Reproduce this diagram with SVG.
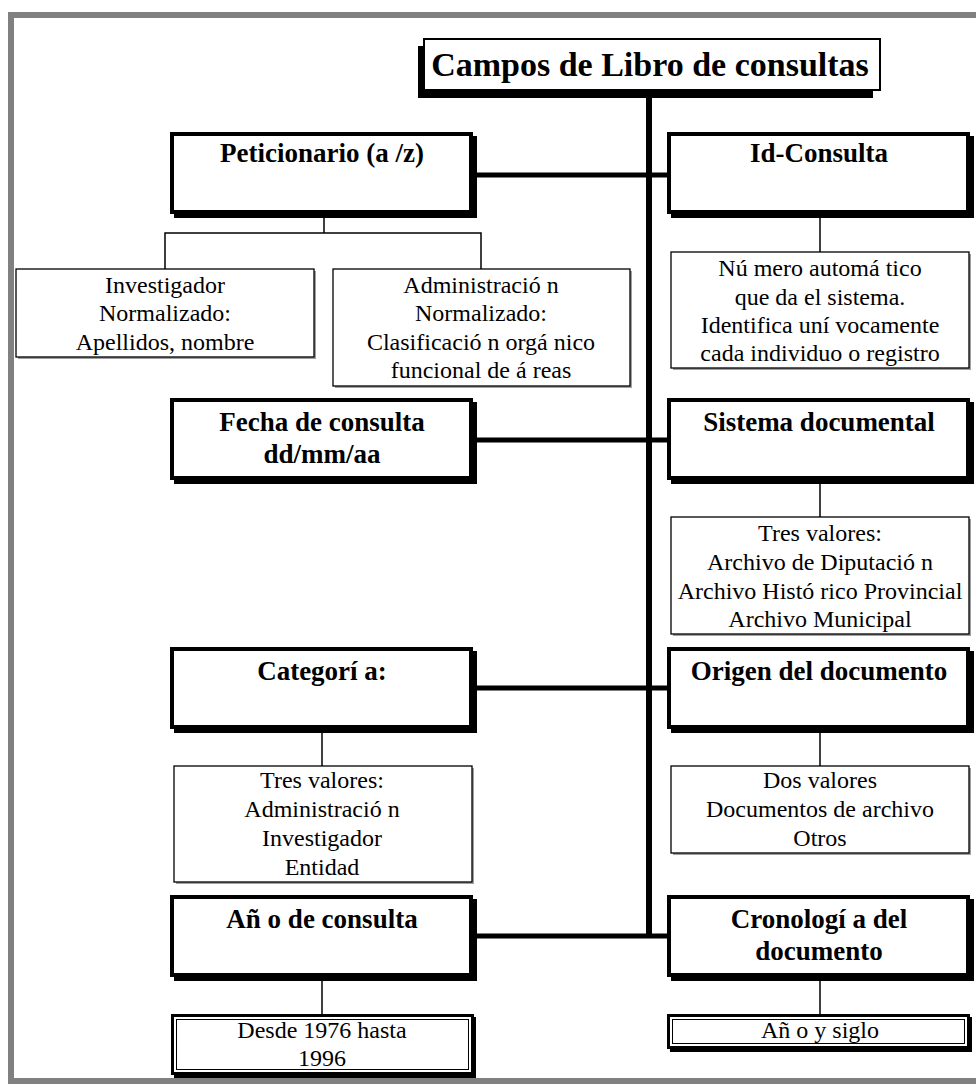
<svg xmlns="http://www.w3.org/2000/svg" width="976" height="1084" viewBox="0 0 976 1084">
<style>
.frame{fill:none;stroke:#808080;stroke-width:6}
.shadow{fill:#000}
.big{fill:#fff;stroke:#000;stroke-width:4}
.small{fill:#fff;stroke:#000;stroke-width:1.3}
.sshadow{fill:#a0a0a0}
.dbl{fill:#fff;stroke:#000;stroke-width:3}
.inner{fill:none;stroke:#000;stroke-width:1}
.thick{stroke:#000;stroke-width:5;fill:none}
.thin{stroke:#000;stroke-width:1.5;fill:none}
.h{font-family:"Liberation Serif",serif;font-weight:bold;font-size:27px;text-anchor:middle;fill:#000}
.title{font-family:"Liberation Serif",serif;font-weight:bold;font-size:34px;text-anchor:middle;fill:#000}
.t{font-family:"Liberation Serif",serif;font-size:24px;text-anchor:middle;fill:#000}
</style>
<rect width="976" height="1084" fill="#fff"/>
<rect class="frame" x="11" y="15" width="990" height="1066"/>

<g id="connectors">
  <line class="thick" x1="649" y1="91" x2="649" y2="938" style="stroke-width:6"/>
  <line class="thick" x1="473" y1="175" x2="667" y2="175"/>
  <line class="thick" x1="473" y1="440" x2="667" y2="440"/>
  <line class="thick" x1="473" y1="688" x2="667" y2="688"/>
  <line class="thick" x1="473" y1="936" x2="667" y2="936"/>
  <polyline class="thin" points="324,218 324,233"/>
  <polyline class="thin" points="165,269 165,233 481,233 481,269"/>
  <line class="thin" x1="820" y1="218" x2="820" y2="252"/>
  <line class="thin" x1="820" y1="484" x2="820" y2="517"/>
  <line class="thin" x1="322" y1="733" x2="322" y2="766"/>
  <line class="thin" x1="820" y1="733" x2="820" y2="766"/>
  <line class="thin" x1="322" y1="981" x2="322" y2="1014"/>
  <line class="thin" x1="820" y1="981" x2="820" y2="1014"/>
</g>

<g id="title">
  <rect class="shadow" x="418" y="46" width="455" height="52"/>
  <rect x="424" y="39" width="456" height="51" fill="#fff" stroke="#000" stroke-width="2"/>
  <text class="title" x="650" y="76">Campos de Libro de consultas</text>
</g>

<g id="peticionario">
  <rect class="shadow" x="174" y="136" width="303" height="82"/>
  <rect class="big" x="172" y="134" width="299" height="78"/>
  <text class="h" x="322" y="162">Peticionario (a /z)</text>
</g>
<g id="idconsulta">
  <rect class="shadow" x="671" y="136" width="303" height="82"/>
  <rect class="big" x="669" y="134" width="299" height="78"/>
  <text class="h" x="819" y="162">Id-Consulta</text>
</g>

<g id="investigador">
  <rect class="sshadow" x="18" y="271" width="298" height="88"/>
  <rect class="small" x="16" y="269" width="298" height="88"/>
  <text class="t" x="165" y="293">Investigador</text>
  <text class="t" x="165" y="321">Normalizado:</text>
  <text class="t" x="165" y="350">Apellidos, nombre</text>
</g>
<g id="administracion">
  <rect class="sshadow" x="335" y="271" width="297" height="117"/>
  <rect class="small" x="333" y="269" width="297" height="117"/>
  <text class="t" x="481" y="293">Administració n</text>
  <text class="t" x="481" y="321">Normalizado:</text>
  <text class="t" x="481" y="350">Clasificació n orgá nico</text>
  <text class="t" x="481" y="378">funcional de á reas</text>
</g>
<g id="numero">
  <rect class="sshadow" x="673" y="254" width="298" height="116"/>
  <rect class="small" x="671" y="252" width="298" height="116"/>
  <text class="t" x="820" y="276">Nú mero automá tico</text>
  <text class="t" x="820" y="305">que da el sistema.</text>
  <text class="t" x="820" y="333">Identifica uní vocamente</text>
  <text class="t" x="820" y="361">cada individuo o registro</text>
</g>

<g id="fecha">
  <rect class="shadow" x="174" y="402" width="303" height="82"/>
  <rect class="big" x="172" y="400" width="299" height="78"/>
  <text class="h" x="322" y="431">Fecha de consulta</text>
  <text class="h" x="322" y="463">dd/mm/aa</text>
</g>
<g id="sistema">
  <rect class="shadow" x="671" y="402" width="303" height="82"/>
  <rect class="big" x="669" y="400" width="299" height="78"/>
  <text class="h" x="819" y="431">Sistema documental</text>
</g>
<g id="tres-sistema">
  <rect class="sshadow" x="673" y="519" width="298" height="117"/>
  <rect class="small" x="671" y="517" width="298" height="117"/>
  <text class="t" x="820" y="541">Tres valores:</text>
  <text class="t" x="820" y="570">Archivo de Diputació n</text>
  <text class="t" x="820" y="599">Archivo Histó rico Provincial</text>
  <text class="t" x="820" y="627">Archivo Municipal</text>
</g>

<g id="categoria">
  <rect class="shadow" x="174" y="651" width="303" height="82"/>
  <rect class="big" x="172" y="649" width="299" height="78"/>
  <text class="h" x="322" y="680">Categorí a:</text>
</g>
<g id="origen">
  <rect class="shadow" x="671" y="651" width="303" height="82"/>
  <rect class="big" x="669" y="649" width="299" height="78"/>
  <text class="h" x="819" y="680">Origen del documento</text>
</g>
<g id="tres-categoria">
  <rect class="sshadow" x="176" y="768" width="298" height="116"/>
  <rect class="small" x="174" y="766" width="298" height="116"/>
  <text class="t" x="322" y="788">Tres valores:</text>
  <text class="t" x="322" y="817">Administració n</text>
  <text class="t" x="322" y="846">Investigador</text>
  <text class="t" x="322" y="875">Entidad</text>
</g>
<g id="dos-valores">
  <rect class="sshadow" x="673" y="768" width="298" height="87"/>
  <rect class="small" x="671" y="766" width="298" height="87"/>
  <text class="t" x="820" y="788">Dos valores</text>
  <text class="t" x="820" y="817">Documentos de archivo</text>
  <text class="t" x="820" y="846">Otros</text>
</g>

<g id="anio-consulta">
  <rect class="shadow" x="174" y="899" width="303" height="82"/>
  <rect class="big" x="172" y="897" width="299" height="78"/>
  <text class="h" x="322" y="928">Añ o de consulta</text>
</g>
<g id="cronologia">
  <rect class="shadow" x="671" y="899" width="303" height="82"/>
  <rect class="big" x="669" y="897" width="299" height="78"/>
  <text class="h" x="819" y="928">Cronologí a del</text>
  <text class="h" x="819" y="960">documento</text>
</g>

<g id="desde">
  <rect class="shadow" x="174" y="1017" width="302" height="61"/>
  <rect class="dbl" x="172.5" y="1015.5" width="300" height="58"/>
  <rect class="inner" x="176.5" y="1019.5" width="292" height="50"/>
  <text class="t" x="322" y="1038">Desde 1976 hasta</text>
  <text class="t" x="322" y="1066">1996</text>
</g>
<g id="anio-siglo">
  <rect class="shadow" x="670" y="1017" width="302" height="35"/>
  <rect class="dbl" x="668.5" y="1015.5" width="300" height="32"/>
  <rect class="inner" x="672.5" y="1019.5" width="292" height="24"/>
  <text class="t" x="820" y="1038">Añ o y siglo</text>
</g>
</svg>
